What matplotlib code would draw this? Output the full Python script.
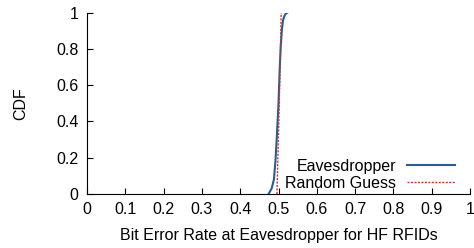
import numpy as np
import matplotlib
matplotlib.use("Agg")
import matplotlib.pyplot as plt

plt.rcParams['font.family'] = ['Liberation Sans', 'DejaVu Sans']

# Eavesdropper CDF
eav_ber = [0.474, 0.482, 0.488, 0.492, 0.496, 0.500, 0.503, 0.506, 0.509, 0.512, 0.516, 0.520, 0.523]
eav_cdf = [0.0, 0.03, 0.08, 0.18, 0.33, 0.50, 0.68, 0.82, 0.91, 0.96, 0.985, 0.997, 1.0]

# Random guess CDF
rnd_ber = [0.496, 0.499, 0.502, 0.505, 0.507]
rnd_cdf = [0.0, 0.25, 0.5, 0.78, 1.0]

fig = plt.figure(figsize=(4.74, 2.48), dpi=100)
ax = fig.add_axes([87/474, 1 - 194/248, (470 - 87)/474, (194 - 12.7)/248])

ax.plot(eav_ber, eav_cdf, color='#2b5a94', lw=1.5, label='Eavesdropper')
ax.plot(rnd_ber, rnd_cdf, color='#c0392b', lw=1.0, ls=(0, (1.5, 1)), label='Random Guess')

ax.set_xlim(0, 1)
ax.set_ylim(0, 1)
ax.set_xticks(np.arange(0, 1.01, 0.1))
ax.set_xticklabels(['0', '0.1', '0.2', '0.3', '0.4', '0.5', '0.6', '0.7', '0.8', '0.9', '1'])
ax.set_yticks(np.arange(0, 1.01, 0.2))
ax.set_yticklabels(['0', '0.2', '0.4', '0.6', '0.8', '1'])
ax.tick_params(direction='in', length=4, width=0.8, labelsize=11.5, pad=6)
ax.spines['top'].set_visible(False)
ax.spines['right'].set_visible(False)
ax.set_xlabel('Bit Error Rate at Eavesdropper for HF RFIDs', fontsize=11.5, labelpad=8)
ax.set_ylabel('CDF', fontsize=11.5, labelpad=20)

ax.legend(loc='lower right', frameon=False, fontsize=11.5, markerfirst=False,
          handlelength=3.0, handletextpad=0.7, labelspacing=0.12,
          borderaxespad=0.0, bbox_to_anchor=(0.978, -0.018))

fig.savefig('out.png', dpi=100)
